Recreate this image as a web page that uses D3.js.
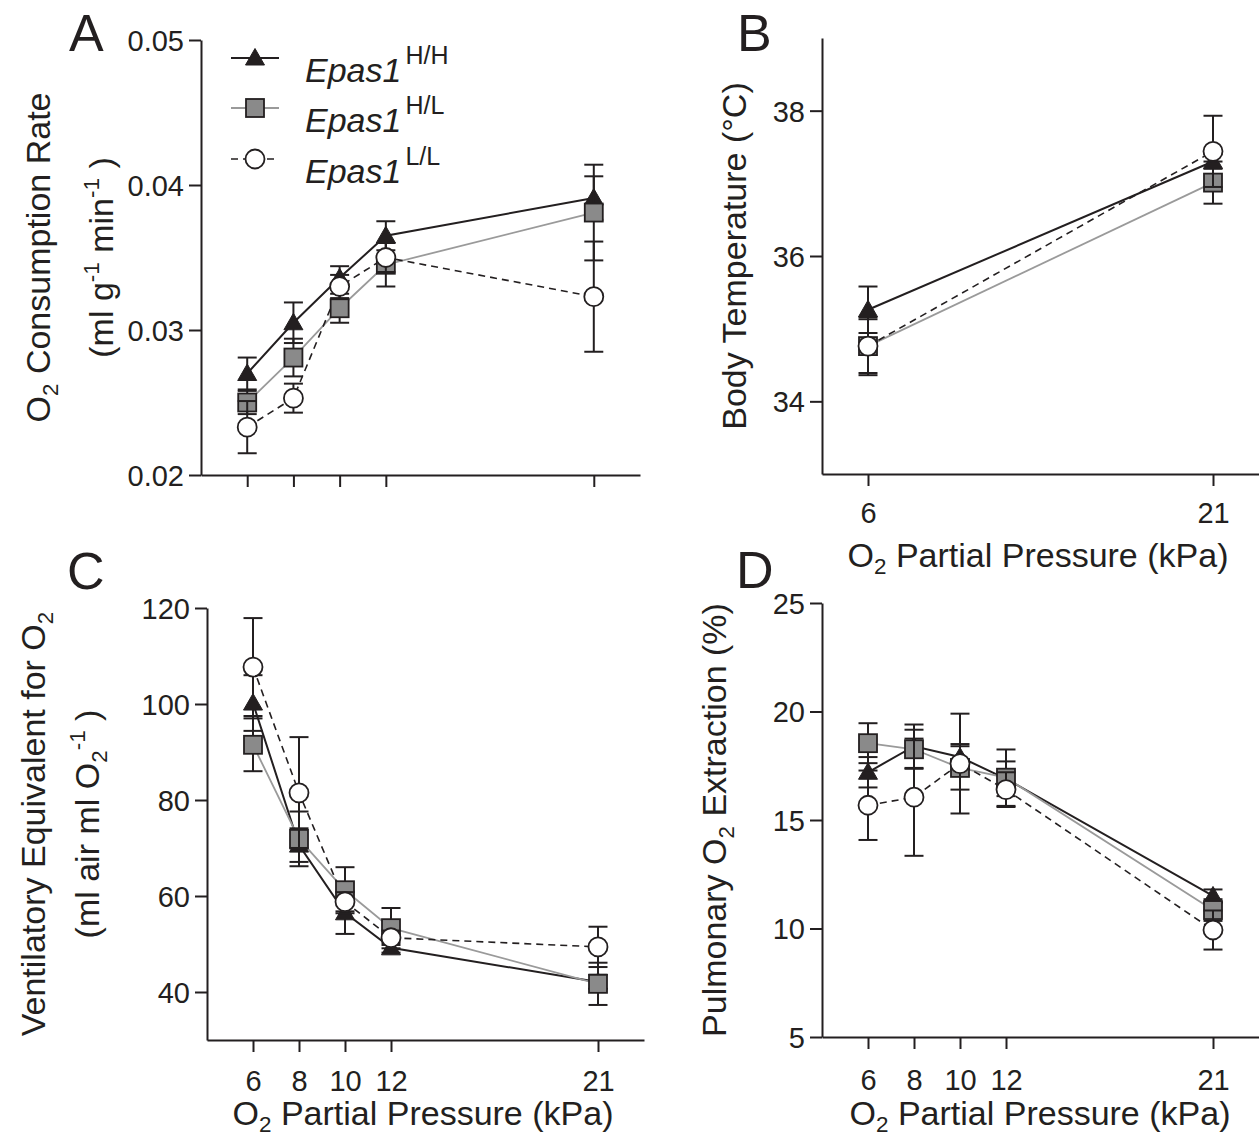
<!DOCTYPE html>
<html><head><meta charset="utf-8">
<script src="https://cdn.jsdelivr.net/npm/d3@7"></script>
<style>body{margin:0;background:#fff}</style>
</head><body>
<svg id="c" width="1259" height="1138" xmlns="http://www.w3.org/2000/svg"></svg>
<script>
// ---------- data ----------
const pressures = [6, 8, 10, 12, 21];
const pressuresB = [6, 21];
const genotypes = ["H/H", "H/L", "L/L"];

// A: O2 consumption rate (ml g-1 min-1)
const vo2HH = [0.0270, 0.0305, 0.0336, 0.0365, 0.0391];
const vo2HHerr = [0.0011, 0.0014, 0.0008, 0.0010, 0.0015];
const vo2HL = [0.0250, 0.0281, 0.0315, 0.0345, 0.0381];
const vo2HLerr = [0.0008, 0.0013, 0.0010, 0.0015, 0.0033];
const vo2LL = [0.0233, 0.0253, 0.0330, 0.0350, 0.0323];
const vo2LLerr = [0.0018, 0.0010, 0.0008, 0.0010, 0.0038];

// B: body temperature (°C)
const tempHH = [35.26, 37.30];
const tempHHerr = [0.32, 0.10];
const tempHL = [34.76, 37.01];
const tempHLerr = [0.40, 0.29];
const tempLL = [34.76, 37.44];
const tempLLerr = [0.37, 0.49];

// C: ventilatory equivalent for O2
const veHH = [100.2, 70.6, 56.5, 49.2, 42.1];
const veHHerr = [5.8, 3.5, 4.4, 1.0, 1.5];
const veHL = [91.5, 71.9, 61.2, 53.3, 41.7];
const veHLerr = [5.5, 5.7, 4.8, 4.2, 4.4];
const veLL = [107.7, 81.5, 58.8, 51.3, 49.4];
const veLLerr = [10.2, 11.6, 2.0, 1.5, 4.2];

// D: pulmonary O2 extraction (%)
const extHH = [17.2, 18.4, 17.9, 16.9, 11.5];
const extHHerr = [0.7, 1.0, 0.6, 0.8, 0.3];
const extHL = [18.54, 18.26, 17.4, 16.95, 10.85];
const extHLerr = [0.92, 0.9, 1.0, 1.3, 0.5];
const extLL = [15.68, 16.05, 17.6, 16.4, 9.93];
const extLLerr = [1.6, 2.7, 2.3, 0.8, 0.9];

// tick values
const ticksA = [0.02, 0.03, 0.04, 0.05];
const ticksB = [34, 36, 38];
const ticksC = [40, 60, 80, 100, 120];
const ticksD = [5, 10, 15, 20, 25];

// ---------- style ----------
const INK = "#231f20";
const FONT = "'Liberation Sans', Arial, Helvetica, sans-serif";
const styles = {
  "H/H": {line: INK, width: 2, dash: null, shape: "tri", fill: INK},
  "H/L": {line: "#9a9a9a", width: 1.8, dash: null, shape: "sq", fill: "#8a8a8a"},
  "L/L": {line: INK, width: 1.6, dash: "7,5", shape: "circ", fill: "#fff"}
};

const svg = d3.select("#c");
svg.append("rect").attr("width", 1259).attr("height", 1138).attr("fill", "#fff");

function rich(sel, segs, size, subShift) {
  let off = 0;
  const ss = subShift === undefined ? 0.24 : subShift;
  segs.forEach(([s, k]) => {
    const target = k === "sub" ? ss * size : k === "sup" ? -0.4 * size : 0;
    sel.append("tspan").attr("dy", target - off)
      .attr("font-size", k ? size * 0.66 : size).text(s);
    off = target;
  });
}

function marker(g, shape, cx, cy, st) {
  if (shape === "tri") {
    g.append("path").attr("d", `M${cx},${cy - 9.5}L${cx + 9.5},${cy + 7}L${cx - 9.5},${cy + 7}Z`)
      .attr("fill", st.fill).attr("stroke", INK).attr("stroke-width", 1);
  } else if (shape === "sq") {
    g.append("rect").attr("x", cx - 9).attr("y", cy - 9).attr("width", 18).attr("height", 18)
      .attr("fill", st.fill).attr("stroke", INK).attr("stroke-width", 1.8);
  } else {
    g.append("circle").attr("cx", cx).attr("cy", cy).attr("r", 9.5)
      .attr("fill", st.fill).attr("stroke", INK).attr("stroke-width", 1.8);
  }
}

function panel(cfg) {
  const {left, right, top, bottom, xs, yDomain, yTicks, yFmt, series, xLabels, tickLabelTop, letter, letterPos} = cfg;
  const x = d3.scaleLinear().domain([4, 23]).range([left, right]);
  const y = d3.scaleLinear().domain(yDomain).range([bottom, top]);
  const g = svg.append("g");

  // axes
  const ya = d3.axisLeft(y).tickValues(yTicks).tickSize(12).tickSizeOuter(0).tickPadding(5).tickFormat(yFmt);
  const yg = g.append("g").attr("transform", `translate(${left},0)`).call(ya);
  const xa = d3.axisBottom(x).tickValues(xs).tickSize(12).tickSizeOuter(0)
    .tickPadding(tickLabelTop - 12).tickFormat(xLabels ? d3.format("d") : () => "");
  const xg = g.append("g").attr("transform", `translate(0,${bottom})`).call(xa);
  [yg, xg].forEach(a => {
    a.select(".domain").attr("stroke", INK).attr("stroke-width", 2);
    a.selectAll(".tick line").attr("stroke", INK).attr("stroke-width", 2);
    a.selectAll(".tick text").attr("fill", INK).attr("font-family", FONT).attr("font-size", 29);
  });
  yg.selectAll(".tick text").attr("dy", "0.36em");

  // series: lines, then error bars + markers
  series.forEach(s => {
    const st = styles[s.name];
    const line = d3.line().x((d, i) => x(xs[i])).y(d => y(d));
    g.append("path").attr("d", line(s.vals)).attr("fill", "none")
      .attr("stroke", st.line).attr("stroke-width", st.width)
      .attr("stroke-dasharray", st.dash);
  });
  series.forEach(s => {
    const st = styles[s.name];
    const sg = g.append("g");
    s.vals.forEach((v, i) => {
      const cx = x(xs[i]);
      const y1 = y(v + s.err[i]), y2 = y(v - s.err[i]);
      sg.append("line").attr("x1", cx).attr("x2", cx).attr("y1", y1).attr("y2", y2)
        .attr("stroke", INK).attr("stroke-width", 2);
      [y1, y2].forEach(yy => sg.append("line").attr("x1", cx - 9.5).attr("x2", cx + 9.5)
        .attr("y1", yy).attr("y2", yy).attr("stroke", INK).attr("stroke-width", 2));
    });
    s.vals.forEach((v, i) => marker(sg, st.shape, x(xs[i]), y(v), st));
  });

  // letter
  svg.append("text").attr("x", letterPos[0]).attr("y", letterPos[1])
    .attr("font-family", FONT).attr("font-size", 52).attr("fill", INK).text(letter);

  // y titles
  cfg.yTitles.forEach(t => {
    const tx = svg.append("text").attr("font-family", FONT).attr("fill", INK)
      .attr("text-anchor", "middle")
      .attr("transform", `translate(${t.x},${(top + bottom) / 2}) rotate(-90)`);
    rich(tx, t.segs, 34);
  });
  if (cfg.xTitle) {
    const tx = svg.append("text").attr("font-family", FONT).attr("fill", INK)
      .attr("text-anchor", "middle").attr("x", cfg.xTitle.x).attr("y", cfg.xTitle.y);
    rich(tx, [["O", null], ["2", "sub"], [" Partial Pressure (kPa)", null]], 34, 0.2);
  }
  return {x, y};
}

panel({
  left: 201, right: 640, top: 40, bottom: 475, xs: pressures,
  yDomain: [0.02, 0.05], yTicks: ticksA, yFmt: d3.format(".2f"),
  xLabels: false, tickLabelTop: 28, letter: "A", letterPos: [69, 51],
  series: [
    {name: "H/H", vals: vo2HH, err: vo2HHerr},
    {name: "H/L", vals: vo2HL, err: vo2HLerr},
    {name: "L/L", vals: vo2LL, err: vo2LLerr}
  ],
  yTitles: [
    {x: 50, segs: [["O", null], ["2", "sub"], [" Consumption Rate", null]]},
    {x: 113, segs: [["(ml g", null], ["-1", "sup"], [" min", null], ["-1", "sup"], [" )", null]]}
  ]
});

panel({
  left: 822, right: 1259, top: 38, bottom: 474, xs: pressuresB,
  yDomain: [33, 39], yTicks: ticksB, yFmt: d3.format("d"),
  xLabels: true, tickLabelTop: 28, letter: "B", letterPos: [737, 51],
  series: [
    {name: "H/H", vals: tempHH, err: tempHHerr},
    {name: "H/L", vals: tempHL, err: tempHLerr},
    {name: "L/L", vals: tempLL, err: tempLLerr}
  ],
  yTitles: [{x: 746, segs: [["Body Temperature (°C)", null]]}],
  xTitle: {x: 1038, y: 567}
});

panel({
  left: 207, right: 644, top: 608, bottom: 1040, xs: pressures,
  yDomain: [30, 120], yTicks: ticksC, yFmt: d3.format("d"),
  xLabels: true, tickLabelTop: 30, letter: "C", letterPos: [67, 589],
  series: [
    {name: "H/H", vals: veHH, err: veHHerr},
    {name: "H/L", vals: veHL, err: veHLerr},
    {name: "L/L", vals: veLL, err: veLLerr}
  ],
  yTitles: [
    {x: 45, segs: [["Ventilatory Equivalent for O", null], ["2", "sub"]]},
    {x: 99, segs: [["(ml air ml O", null], ["2", "sub"], ["-1", "sup"], [" )", null]]}
  ],
  xTitle: {x: 423, y: 1125}
});

panel({
  left: 822, right: 1259, top: 603, bottom: 1037, xs: pressures,
  yDomain: [5, 25], yTicks: ticksD, yFmt: d3.format("d"),
  xLabels: true, tickLabelTop: 32, letter: "D", letterPos: [736, 588],
  series: [
    {name: "H/H", vals: extHH, err: extHHerr},
    {name: "H/L", vals: extHL, err: extHLerr},
    {name: "L/L", vals: extLL, err: extLLerr}
  ],
  yTitles: [{x: 726, segs: [["Pulmonary O", null], ["2", "sub"], [" Extraction (%)", null]]}],
  xTitle: {x: 1040, y: 1125}
});

// legend (panel A)
const leg = svg.append("g");
const legY = [58, 108, 159];
genotypes.forEach((gname, i) => {
  const st = styles[gname];
  leg.append("line").attr("x1", 231).attr("x2", 279).attr("y1", legY[i]).attr("y2", legY[i])
    .attr("stroke", st.line).attr("stroke-width", st.width).attr("stroke-dasharray", st.dash);
  marker(leg, st.shape, 255, legY[i], st);
  const t = leg.append("text").attr("x", 305).attr("y", legY[i] + 24)
    .attr("font-family", FONT).attr("fill", INK);
  t.append("tspan").attr("font-size", 34).attr("font-style", "italic").text("Epas1");
  t.append("tspan").attr("font-size", 25).attr("dy", -18).attr("dx", 4).text(gname);
});
</script>
</body></html>
